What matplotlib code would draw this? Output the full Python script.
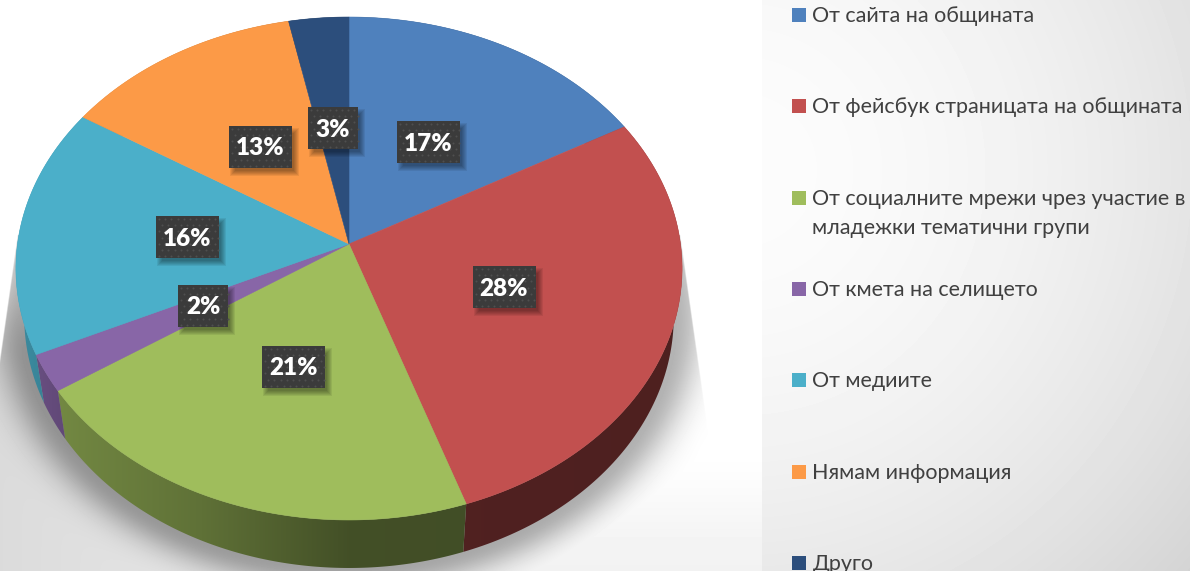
import numpy as np
import matplotlib
matplotlib.use("Agg")
import matplotlib.pyplot as plt
from matplotlib.patches import Polygon, Rectangle

plt.rcParams['font.family'] = ['Lato', 'Noto Sans', 'DejaVu Sans']

# data
categories = ["От сайта на общината",
              "От фейсбук страницата на общината",
              "От социалните мрежи чрез участие в\nмладежки тематични групи",
              "От кмета на селището",
              "От медиите",
              "Нямам информация",
              "Друго"]
values = [16.8, 28, 20.8, 2.4, 16, 12.8, 3.2]
colors = ["#4f81bd", "#c2504f", "#9fbd5c", "#8866a7", "#4bafc9", "#fc9a47", "#2c4e7c"]

# where the things go (pixels)
label_pos = [(428.5, 142), (504, 287), (293.5, 366.5), (203, 305.5),
             (187.5, 237), (260, 146.5), (333, 128)]
legend_y = [15, 106, 198, 289, 380, 472, 563]

W, H = 1190, 571
cx, cy = 349, 244
persp = -0.0974
depth = 48
shrink = 0.975


def project(angle):
    # pie circle seen in perspective, angle in degrees clockwise from the top
    a = np.radians(angle)
    u = np.sin(a)
    v = -np.cos(a)
    d = 1 + persp * v
    return cx + 331.5 * u / d, cy + 249.1 * v / d


def smooth(t):
    t = np.clip(t, 0, 1)
    return t * t * (3 - 2 * t)


def make_background():
    xx, yy = np.meshgrid(np.arange(W) + 0.5, np.arange(H) + 0.5)
    # distance-ish from the lower rim of the pie
    ex = (xx - cx) / (333 * shrink)
    ey = (yy - (268.5 + depth)) / 251.5
    r = np.sqrt(ex ** 2 + ey ** 2)
    d = (r - 1) * 290
    blur = 75 * np.exp(-(np.clip(d, 0, None) / 28) ** 2)
    # wedge shaped shadow plate under the pie
    half = 331 + (yy - 235) * 25 / 175
    wedge = smooth((half - np.abs(xx - cx)) / 2 + 0.5) * (yy > 235)
    base = 36 * np.clip(1 - xx / 700, 0, 1) * smooth((yy - 270) / 90) * wedge
    tail = 13 * smooth((yy - 440) / 130)
    dark = np.maximum(blur * wedge + base, tail)
    grey = 255 - dark
    # right panel
    dist = np.hypot(xx - 740, yy - 170)
    panel = 252 - 40 * (dist / 602) ** 1.8
    grey = np.where(xx >= 762, panel, grey)
    return np.clip(grey, 0, 255) / 255


fig = plt.figure(figsize=(W / 100, H / 100), dpi=100)
ax = fig.add_axes([0, 0, 1, 1])

ax.imshow(make_background(), cmap="gray", vmin=0, vmax=1, extent=(0, W, H, 0),
          aspect="auto", interpolation="bilinear", zorder=0)

# walls and top of the slices
edges = np.cumsum([0] + values) / sum(values) * 360
shade_x = np.arange(W) + 0.5
shade = np.interp(shade_x, [30, 60, 200, 350, 700], [0.78, 0.72, 0.6, 0.42, 0.4])

for i, val in enumerate(values):
    ang = np.linspace(edges[i], edges[i + 1], 120)
    px, py = project(ang)
    lowx = cx + shrink * (px - cx)
    lowy = py + depth
    wall = np.column_stack([np.r_[px, lowx[::-1]], np.r_[py, lowy[::-1]]])
    rgb = np.array(matplotlib.colors.to_rgb(colors[i]))
    strip = np.outer(shade, rgb)[None, :, :]
    im = ax.imshow(strip, extent=(0, W, H, 0), aspect="auto", zorder=1)
    clip = Polygon(wall, closed=True, transform=ax.transData)
    im.set_clip_path(clip)

for i, val in enumerate(values):
    ang = np.linspace(edges[i], edges[i + 1], 120)
    px, py = project(ang)
    ax.fill(np.r_[cx, px], np.r_[cy, py], color=colors[i], lw=0.4, zorder=2)

# data labels
for i, val in enumerate(values):
    x, y = label_pos[i]
    text = "%d%%" % round(val)
    bw = 50 if len(text) == 2 else 63
    bh = 42
    for k in range(6):
        grow = 3 - k
        ax.add_patch(Rectangle((x - bw / 2 + 4 - grow, y - bh / 2 + 5 - grow), bw + 2 * grow, bh + 2 * grow,
                               fc="black", ec="none", alpha=0.07, zorder=3))
    ax.add_patch(Rectangle((x - bw / 2, y - bh / 2), bw, bh, fc="#3b3b3b", ec="none", zorder=4))
    # dotted fill of the box
    dots_x = []
    dots_y = []
    for row, dy in enumerate(np.arange(3, bh, 6.2)):
        for dx in np.arange(3 + (row % 2) * 3.1, bw, 6.2):
            dots_x.append(x - bw / 2 + dx)
            dots_y.append(y - bh / 2 + dy)
    ax.scatter(dots_x, dots_y, s=2.2, color="#4f4f4f", linewidths=0, zorder=5)
    ax.text(x, y + 1.8, text, color="white", fontsize=17.5, fontweight="heavy",
            ha="center", va="center", zorder=6)

# legend
for i, name in enumerate(categories):
    ax.add_patch(Rectangle((792, legend_y[i] - 7), 14, 14, fc=colors[i], ec="none", zorder=3))
    for k, line in enumerate(name.split("\n")):
        ax.text(812.5, legend_y[i] + 1 + 29 * k, line, color="#404040", fontsize=15.5, ha="left", va="center", zorder=3)

ax.set_xlim(0, W)
ax.set_ylim(H, 0)
ax.axis("off")

fig.savefig("out.png", dpi=100)
